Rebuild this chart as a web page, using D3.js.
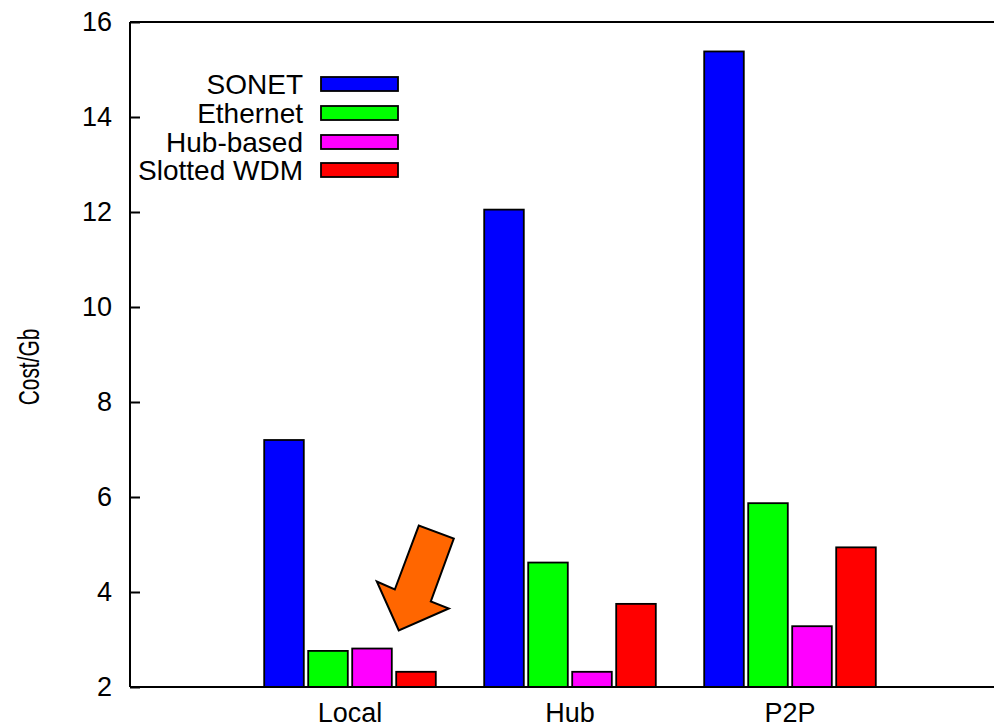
<!DOCTYPE html>
<html>
<head>
<meta charset="utf-8">
<script src="https://cdn.jsdelivr.net/npm/d3@7"></script>
<style>
  html, body { margin: 0; padding: 0; background: #ffffff; }
  svg { display: block; }
  text { font-family: "Liberation Sans", Arial, Helvetica, sans-serif; fill: #000; }
</style>
</head>
<body>
<svg id="chart" width="994" height="728"></svg>
<script>
// Network architectures compared
const categories = ["Local", "Hub", "P2P"];
const seriesNames = ["SONET", "Ethernet", "Hub-based", "Slotted WDM"];
const seriesColors = ["#0000ff", "#00ff00", "#ff00ff", "#ff0000"];

// Cost per Gb for each series, in category order
const sonet      = [7.2, 12.05, 15.38];
const ethernet   = [2.76, 4.62, 5.87];
const hubBased   = [2.81, 2.32, 3.28];
const slottedWdm = [2.32, 3.75, 4.94];

const yTicks = [2, 4, 6, 8, 10, 12, 14, 16];
const yLabel = "Cost/Gb";

const seriesValues = [sonet, ethernet, hubBased, slottedWdm];

const svg = d3.select("#chart");

// Plot frame: x runs from 0 to 4 with categories at 1, 2, 3
const x = d3.scaleLinear().domain([0, 4]).range([130, 1010]);
const y = d3.scaleLinear().domain([2, 16]).range([687, 22]);

// Position of each bar inside a category cluster (pixels from cluster centre)
const inner = d3.scaleBand()
  .domain(seriesNames)
  .range([-88, 88])
  .paddingInner(0.1)
  .paddingOuter(0.05);

// Bars
const rows = [];
categories.forEach((c, ci) => {
  seriesNames.forEach((s, si) => {
    rows.push({ cat: c, ci, series: s, si, value: seriesValues[si][ci] });
  });
});

svg.append("g")
  .selectAll("rect")
  .data(rows)
  .join("rect")
  .attr("x", d => x(d.ci + 1) + inner(d.series))
  .attr("y", d => y(d.value))
  .attr("width", inner.bandwidth())
  .attr("height", d => y(2) - y(d.value))
  .attr("fill", d => seriesColors[d.si])
  .attr("stroke", "#000")
  .attr("stroke-width", 1.8);

// Frame: left, top and bottom borders
const frame = svg.append("g").attr("fill", "none").attr("stroke", "#000").attr("stroke-width", 2);
frame.append("line").attr("x1", x(0)).attr("x2", x(0)).attr("y1", y(16)).attr("y2", y(2));
frame.append("line").attr("x1", x(0)).attr("x2", x(4)).attr("y1", y(16)).attr("y2", y(16));
frame.append("line").attr("x1", x(0)).attr("x2", x(4)).attr("y1", y(2)).attr("y2", y(2));

// Left axis with inward ticks
const yAxis = d3.axisLeft(y)
  .tickValues(yTicks)
  .tickFormat(d3.format("d"))
  .tickSizeInner(-10)
  .tickSizeOuter(0)
  .tickPadding(18);

const gy = svg.append("g")
  .attr("transform", `translate(${x(0)},0)`)
  .call(yAxis);
gy.select(".domain").remove();
gy.selectAll(".tick line").attr("stroke", "#000").attr("stroke-width", 2);
gy.selectAll(".tick text")
  .style("font-size", "27px")
  .style("font-family", "Liberation Sans, Arial, sans-serif")
  .attr("fill", "#000");

// Category labels under the clusters
svg.append("g")
  .selectAll("text")
  .data(categories)
  .join("text")
  .attr("x", (d, i) => x(i + 1))
  .attr("y", 722)
  .attr("text-anchor", "middle")
  .style("font-size", "27px")
  .text(d => d);

// Y axis title, set in a condensed face
svg.append("text")
  .attr("transform", "translate(39,367) rotate(-90) scale(0.72,1)")
  .attr("text-anchor", "middle")
  .style("font-size", "29px")
  .text(yLabel);

// Legend
const legendRows = [84, 113, 142, 170];
const legend = svg.append("g");
seriesNames.forEach((s, i) => {
  legend.append("text")
    .attr("x", 303)
    .attr("y", legendRows[i])
    .attr("dy", "0.36em")
    .attr("text-anchor", "end")
    .style("font-size", "28px")
    .text(s);
  legend.append("rect")
    .attr("x", 321)
    .attr("y", legendRows[i] - 7)
    .attr("width", 77)
    .attr("height", 14)
    .attr("fill", seriesColors[i])
    .attr("stroke", "#000")
    .attr("stroke-width", 1.8);
});

// Annotation arrow pointing at the Local / Hub-based bar
const target = rows.find(r => r.cat === "Local" && r.series === "Hub-based");
const tipX = x(target.ci + 1) + inner(target.series) + inner.bandwidth() + 7;
const tipY = y(target.value) - 18;
const arrowShape = [
  [0, 0], [-22, -49], [-4, -41], [20, -105], [55, -92], [32, -29], [50, -22]
];
svg.append("polygon")
  .attr("points", arrowShape.map(p => [tipX + p[0], tipY + p[1]].join(",")).join(" "))
  .attr("fill", "#ff6600")
  .attr("stroke", "#000")
  .attr("stroke-width", 2)
  .attr("stroke-linejoin", "miter");
</script>
</body>
</html>
